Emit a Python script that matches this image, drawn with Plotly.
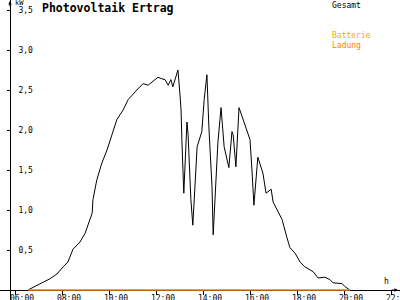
import plotly.graph_objects as go

DAY = "2024-06-01 "

# PV output (kW)
pv_times = [
    "06:33", "06:51", "07:09", "07:29", "07:47", "08:03", "08:15", "08:20", "08:28", "08:46",
    "08:59", "09:17", "09:19", "09:29", "09:42", "09:55", "10:03", "10:20", "10:36", "10:49",
    "11:11", "11:27", "11:40", "11:50", "12:05", "12:15", "12:23", "12:31", "12:38", "12:43",
    "12:54", "12:56", "13:01", "13:04", "13:06", "13:09", "13:11", "13:19", "13:22", "13:29",
    "13:34", "13:45", "13:57", "14:03", "14:10", "14:15", "14:23", "14:26", "14:33", "14:38",
    "14:46", "14:54", "15:06", "15:14", "15:17", "15:24", "15:32", "15:40", "15:50", "16:00",
    "16:05", "16:10", "16:20", "16:33", "16:41", "16:54", "16:59", "17:09", "17:22", "17:34",
    "17:42", "17:55", "18:08", "18:20", "18:41", "18:54", "19:11", "19:24", "19:32", "19:55",
    "20:03", "20:15",
]
pv_kw = [
    0.0, 0.04, 0.09, 0.14, 0.20, 0.29, 0.35, 0.41, 0.51, 0.60,
    0.71, 0.96, 1.13, 1.38, 1.59, 1.75, 1.88, 2.13, 2.25, 2.38,
    2.50, 2.58, 2.56, 2.60, 2.66, 2.64, 2.63, 2.56, 2.63, 2.54,
    2.71, 2.75, 2.46, 2.25, 1.88, 1.59, 1.21, 2.10, 1.94, 1.13,
    0.81, 1.79, 1.98, 2.38, 2.69, 2.04, 1.29, 0.69, 1.29, 1.84,
    2.28, 1.79, 1.53, 1.98, 1.94, 1.54, 2.28, 2.16, 2.04, 1.88,
    1.50, 1.06, 1.66, 1.46, 1.21, 1.26, 1.10, 1.00, 0.88, 0.66,
    0.53, 0.46, 0.35, 0.29, 0.23, 0.15, 0.16, 0.13, 0.09, 0.08,
    0.04, 0.0,
]

# Battery charging (kW)
bat_times = ["06:33", "20:15"]
bat_kw = [0.0, 0.0]

x_range = ["05:21:42", "22:22:59"]
y_range = [-0.125, 3.625]
ytick_vals = [0.5, 1.0, 1.5, 2.0, 2.5, 3.0, 3.5]
xtick_start = "06:00"

MONO = "DejaVu Sans Mono"
BLACK = "#000000"
ORANGE = "#FF8000"
AMBER = "#FFAA00"

fig = go.Figure()
fig.add_trace(go.Scatter(
    x=[DAY + t for t in pv_times], y=pv_kw, mode="lines",
    line=dict(color=BLACK, width=1), hoverinfo="skip", showlegend=False))
fig.add_trace(go.Scatter(
    x=[DAY + t for t in bat_times], y=bat_kw, mode="lines",
    line=dict(color=ORANGE, width=1.5), hoverinfo="skip", showlegend=False))

xpos = 10 / 300
ypos = 10 / 400
xr = [DAY + t for t in x_range]
common_x = dict(type="date", range=xr, tick0=DAY + xtick_start, dtick=7200000,
                showgrid=False, zeroline=False, anchor="free", position=xpos,
                automargin=False, layer="below traces")
common_y = dict(range=y_range, tickvals=ytick_vals, showgrid=False, zeroline=False,
                anchor="free", position=ypos, automargin=False, layer="below traces")

fig.update_layout(
    width=400, height=300, margin=dict(l=0, r=0, t=0, b=0, pad=0),
    paper_bgcolor="white", plot_bgcolor="white",
    separators=",.",
    xaxis=dict(**common_x, showline=True, linecolor=BLACK, linewidth=1,
               ticks="outside", ticklen=4, tickcolor=BLACK, tickwidth=1,
               tickformat="%H:%M", ticklabelshift=7, ticklabelstandoff=-4,
               ticklabeloverflow="allow",
               tickfont=dict(family=MONO, size=8, color=BLACK)),
    xaxis2=dict(**common_x, overlaying="x", showline=False, ticks="inside",
                ticklen=4, tickcolor=BLACK, tickwidth=1, showticklabels=False),
    yaxis=dict(**common_y, showline=True, linecolor=BLACK, linewidth=1,
               ticks="outside", ticklen=3, tickcolor=BLACK, tickwidth=1,
               tickformat=".1f", ticklabelposition="inside", ticklabelstandoff=6,
               ticklabeloverflow="allow",
               tickfont=dict(family=MONO, size=8, color=BLACK)),
    yaxis2=dict(**common_y, overlaying="y", showline=False, ticks="inside",
                ticklen=3, tickcolor=BLACK, tickwidth=1, showticklabels=False),
)

ann = [
    dict(text="<b>Photovoltaik Ertrag</b>", x=40 / 400, y=1 - 8 / 300, xanchor="left",
         yanchor="middle", font=dict(family=MONO, size=11.5, color=BLACK)),
    dict(text="Gesamt", x=330 / 400, y=1 - 5 / 300, xanchor="left", yanchor="middle",
         font=dict(family=MONO, size=8, color=BLACK)),
    dict(text="Batterie", x=330 / 400, y=1 - 35 / 300, xanchor="left", yanchor="middle",
         font=dict(family=MONO, size=8, color=AMBER)),
    dict(text="Ladung", x=330 / 400, y=1 - 45 / 300, xanchor="left", yanchor="middle",
         font=dict(family=MONO, size=8, color=ORANGE)),
    dict(text="kW", x=13 / 400, y=1 - 3 / 300, xanchor="left", yanchor="middle",
         font=dict(family=MONO, size=7, color=BLACK)),
    dict(text="h", x=386 / 400, y=1 - 281 / 300, xanchor="center", yanchor="middle",
         font=dict(family=MONO, size=8, color=BLACK)),
]
for a in ann:
    a.update(xref="paper", yref="paper", showarrow=False)
fig.update_layout(annotations=ann)

# axis arrowheads
fig.add_annotation(xref="paper", yref="paper", x=ypos, y=1, ax=0, ay=8, text="",
                   showarrow=True, arrowhead=2, arrowsize=0.7, arrowwidth=1, arrowcolor=BLACK)
fig.add_annotation(xref="paper", yref="paper", x=398 / 400, y=xpos, ax=-8, ay=0, text="",
                   showarrow=True, arrowhead=2, arrowsize=0.7, arrowwidth=1, arrowcolor=BLACK)

fig.write_html("out.html", config=dict(displayModeBar=False, staticPlot=True))
